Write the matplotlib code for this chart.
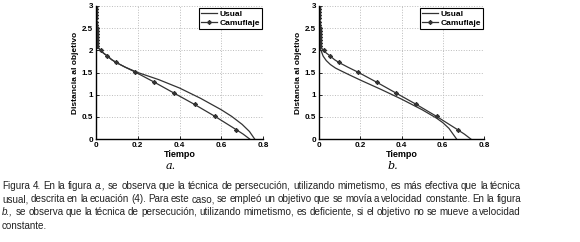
import matplotlib
matplotlib.use("Agg")
import matplotlib.pyplot as plt

# ---- data ----
xticks = [0, 0.2, 0.4, 0.6, 0.8]
xticklabels = ['0', '0.2', '0.4', '0.6', '0.8']
yticks = [0, 0.5, 1, 1.5, 2, 2.5, 3]
yticklabels = ['0', '0.5', '1', '1.5', '2', '2.5', '3']

# Camuflaje (same trajectory in both panels)
cam_t = [0.002, 0.002, 0.002, 0.002, 0.002, 0.002, 0.002, 0.003, 0.003, 0.003,
         0.003, 0.004, 0.005, 0.007, 0.012, 0.023, 0.035, 0.055, 0.075, 0.095,
         0.14, 0.188, 0.28, 0.372, 0.472, 0.57, 0.672, 0.705, 0.736]
cam_d = [3.0, 2.93, 2.86, 2.79, 2.72, 2.65, 2.58, 2.51, 2.44, 2.37,
         2.30, 2.23, 2.16, 2.10, 2.05, 2.0, 1.94, 1.87, 1.79, 1.73,
         1.62, 1.51, 1.28, 1.04, 0.78, 0.51, 0.21, 0.11, 0.0]
cam_marks = [0, 1, 2, 3, 4, 5, 6, 7, 8, 9, 10, 11, 12, 13,
             15, 17, 19, 21, 22, 23, 24, 25, 26]

# Usual, figure a.
usual_a_t = [0.002, 0.002, 0.003, 0.007, 0.012, 0.023, 0.035, 0.055, 0.075, 0.095,
             0.14, 0.2, 0.3, 0.4, 0.5, 0.6, 0.65, 0.7, 0.735, 0.76]
usual_a_d = [3.0, 2.6, 2.25, 2.10, 2.05, 2.0, 1.94, 1.87, 1.79, 1.73,
             1.62, 1.50, 1.34, 1.15, 0.92, 0.66, 0.51, 0.33, 0.17, 0.0]

# Usual, figure b.
usual_b_t = [0.003, 0.003, 0.004, 0.008, 0.02, 0.035, 0.055, 0.08, 0.11, 0.15,
             0.2, 0.3, 0.4, 0.5, 0.57, 0.6, 0.63, 0.667]
usual_b_d = [3.0, 2.6, 2.2, 2.02, 1.87, 1.77, 1.68, 1.60, 1.53, 1.44,
             1.33, 1.12, 0.90, 0.66, 0.47, 0.37, 0.24, 0.0]

panel_labels = ['a.', 'b.']

caption_lines = [
    "Figura 4. En la figura a., se observa que  la técnica de persecución, utilizando  mimetismo, es más efectiva que la  técnica",
    "usual, descrita en la ecuación (4). Para este caso, se empleó un objetivo que se movía a velocidad constante. En la figura",
    "b., se observa que la técnica de persecución, utilizando mimetismo, es deficiente, si el objetivo no se mueve a velocidad",
    "constante.",
]
italic_words = {'a.,', 'b.,'}

# ---- figure ----
fig = plt.figure(figsize=(5.8, 2.42), dpi=100)
W, H = 580.0, 242.0

def make_axes(left_px, right_px, top_px, bottom_px):
    return fig.add_axes([left_px / W, 1 - bottom_px / H,
                         (right_px - left_px) / W, (bottom_px - top_px) / H])

ax_a = make_axes(96, 263, 6, 139)
ax_b = make_axes(319, 484, 6, 139)

tick_font = dict(fontsize=5.8, fontweight='bold', family='Liberation Sans')

def style_axes(ax, usual_t, usual_d, label):
    ax.plot(usual_t, usual_d, color='#333333', lw=0.9, label='Usual')
    ax.plot(cam_t, cam_d, color='#333333', lw=0.9, marker=(8, 2, 0), ms=3.2,
            mew=0.7, markevery=cam_marks, label='Camuflaje')
    ax.set_xlim(0, 0.8)
    ax.set_ylim(0, 3)
    ax.set_xticks(xticks)
    ax.set_xticklabels(xticklabels, **tick_font)
    ax.set_yticks(yticks)
    ax.set_yticklabels(yticklabels, **tick_font)
    ax.tick_params(direction='in', length=2, width=0.6, pad=2)
    ax.grid(True, color='#bbbbbb', linestyle=':', lw=0.7)
    for s in ['top', 'right']:
        ax.spines[s].set_visible(False)
    for s in ['left', 'bottom']:
        ax.spines[s].set_linewidth(1.0)
    ax.set_xlabel('Tiempo', fontsize=6.5, fontweight='bold',
                  family='Liberation Sans', labelpad=1)
    ax.set_ylabel('Distancia al objetivo', fontsize=6, fontweight='bold',
                  family='Liberation Sans', labelpad=2)
    leg = ax.legend(loc='upper right', bbox_to_anchor=(0.995, 0.985),
                    borderaxespad=0, fancybox=False, framealpha=1,
                    edgecolor='black', handlelength=1.9, handletextpad=0.3,
                    borderpad=0.25, labelspacing=0.15,
                    prop=dict(size=6, weight='bold', family='Liberation Sans'))
    leg.get_frame().set_linewidth(0.8)
    ax.text(0.45, -0.2, label, transform=ax.transAxes, ha='center',
            va='center', fontsize=8, style='italic', family='DejaVu Serif')

style_axes(ax_a, usual_a_t, usual_a_d, panel_labels[0])
style_axes(ax_b, usual_b_t, usual_b_d, panel_labels[1])

# ---- justified caption ----
renderer = fig.canvas.get_renderer()
x_left, x_right = 2.0, 521.0
line_y = [186, 199, 212, 226]
cap_font = dict(fontsize=7.1, family='Liberation Sans', color='#222222')

for i, line in enumerate(caption_lines):
    words = line.split()
    texts = []
    for w in words:
        t = fig.text(0, 1 - line_y[i] / H, w, va='center', ha='left',
                     style='italic' if w in italic_words else 'normal',
                     **cap_font)
        texts.append(t)
    widths = [t.get_window_extent(renderer).width for t in texts]
    if i < len(caption_lines) - 1 and len(words) > 1:
        gap = (x_right - x_left - sum(widths)) / (len(words) - 1)
    else:
        gap = renderer.points_to_pixels(cap_font['fontsize']) * 0.28
    x = x_left
    for t, w in zip(texts, widths):
        t.set_x(x / W)
        x += w + gap

fig.savefig('out.png', dpi=100)
